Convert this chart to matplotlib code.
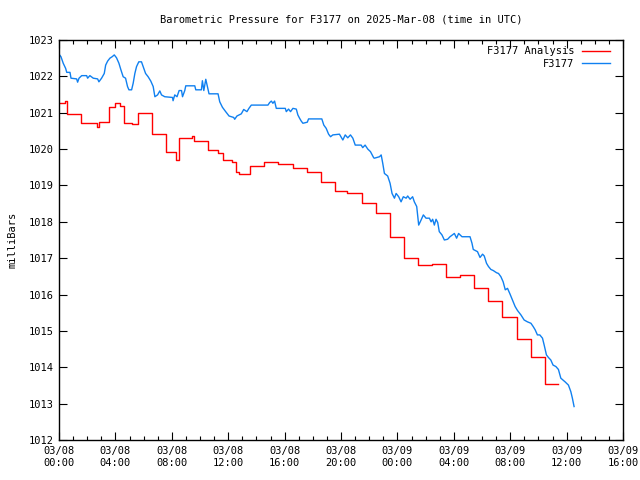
import matplotlib
matplotlib.use("Agg")
import matplotlib.pyplot as plt
import numpy as np

# ---------------- data ----------------
# time in hours since 2025-03-08 00:00 UTC, pressure in mbar
blue_t = [0.00, 0.14, 0.30, 0.47, 0.55, 0.78, 0.85, 1.25, 1.32, 1.42, 1.61, 1.96, 2.03, 2.19, 2.43,
          2.74, 2.83, 3.02, 3.21, 3.31, 3.45, 3.61, 3.77, 3.92, 4.08, 4.25, 4.39, 4.55, 4.72, 4.86,
          4.96, 5.15, 5.26, 5.38, 5.50, 5.66, 5.85, 5.97, 6.14, 6.32, 6.51, 6.68, 6.80, 6.99, 7.15,
          7.27, 7.50, 8.05, 8.09, 8.21, 8.37, 8.52, 8.69, 8.76, 8.92, 8.99, 9.63, 9.70, 10.10, 10.17,
          10.27, 10.41, 10.50, 10.64, 11.28, 11.40, 11.59, 11.82, 12.06, 12.39, 12.46, 12.62, 12.93,
          13.10, 13.33, 13.47, 13.64, 14.82, 14.94, 15.06, 15.17, 15.29, 15.41, 16.05, 16.12, 16.28,
          16.42, 16.59, 16.83, 16.94, 17.06, 17.18, 17.30, 17.61, 17.70, 18.64, 18.78, 18.95, 19.12,
          19.26, 19.42, 19.89, 20.13, 20.30, 20.48, 20.67, 20.84, 21.01, 21.43, 21.54, 21.71, 21.90,
          22.09, 22.32, 22.37, 22.73, 22.85, 22.96, 23.08, 23.31, 23.48, 23.62, 23.79, 23.91, 24.09,
          24.26, 24.42, 24.62, 24.73, 24.90, 25.08, 25.20, 25.37, 25.51, 25.68, 25.84, 26.03, 26.27,
          26.39, 26.50, 26.62, 26.74, 26.86, 26.97, 27.16, 27.33, 27.56, 27.73, 28.04, 28.20, 28.34,
          28.58, 28.86, 29.15, 29.29, 29.38, 29.68, 29.86, 30.04, 30.16, 30.32, 30.46, 30.63, 30.80,
          31.03, 31.17, 31.34, 31.50, 31.65, 31.81, 31.98, 32.16, 32.35, 32.52, 32.76, 32.99, 33.22,
          33.47, 33.63, 33.77, 33.93, 34.10, 34.29, 34.41, 34.57, 34.71, 34.88, 35.04, 35.24, 35.42,
          35.59, 35.89, 36.13, 36.30, 36.41, 36.53]
blue_p = [1022.61, 1022.54, 1022.36, 1022.22, 1022.11, 1022.11, 1021.95, 1021.93, 1021.84, 1021.95,
          1022.02, 1022.02, 1021.95, 1022.02, 1021.95, 1021.93, 1021.85, 1021.95, 1022.08, 1022.31,
          1022.42, 1022.50, 1022.54, 1022.59, 1022.51, 1022.36, 1022.18, 1021.99, 1021.95, 1021.72,
          1021.63, 1021.63, 1021.81, 1022.08, 1022.27, 1022.40, 1022.40, 1022.27, 1022.08, 1021.99,
          1021.87, 1021.72, 1021.44, 1021.49, 1021.60, 1021.49, 1021.44, 1021.42, 1021.33, 1021.49,
          1021.44, 1021.61, 1021.61, 1021.44, 1021.61, 1021.74, 1021.74, 1021.63, 1021.63, 1021.88,
          1021.61, 1021.92, 1021.76, 1021.52, 1021.52, 1021.30, 1021.15, 1021.03, 1020.91, 1020.87,
          1020.82, 1020.91, 1020.97, 1021.09, 1021.03, 1021.12, 1021.21, 1021.21, 1021.28, 1021.32,
          1021.26, 1021.32, 1021.12, 1021.12, 1021.03, 1021.10, 1021.03, 1021.12, 1021.10, 1020.94,
          1020.85, 1020.77, 1020.71, 1020.74, 1020.83, 1020.83, 1020.66, 1020.57, 1020.41, 1020.34,
          1020.39, 1020.41, 1020.25, 1020.39, 1020.31, 1020.39, 1020.30, 1020.11, 1020.11, 1020.04,
          1020.11, 1020.00, 1019.93, 1019.76, 1019.75, 1019.79, 1019.84, 1019.61, 1019.33, 1019.26,
          1019.06, 1018.78, 1018.65, 1018.78, 1018.69, 1018.55, 1018.69, 1018.65, 1018.71, 1018.62,
          1018.69, 1018.55, 1018.42, 1017.91, 1018.05, 1018.19, 1018.10, 1018.10, 1018.00, 1018.07,
          1017.91, 1018.07, 1017.98, 1017.73, 1017.64, 1017.50, 1017.52, 1017.59, 1017.68, 1017.55,
          1017.68, 1017.59, 1017.59, 1017.59, 1017.41, 1017.24, 1017.18, 1017.02, 1017.11, 1017.06,
          1016.86, 1016.77, 1016.69, 1016.66, 1016.60, 1016.58, 1016.49, 1016.35, 1016.13, 1016.17,
          1016.02, 1015.85, 1015.67, 1015.56, 1015.44, 1015.30, 1015.25, 1015.21, 1015.12, 1015.03,
          1014.89, 1014.89, 1014.80, 1014.61, 1014.34, 1014.27, 1014.20, 1014.06, 1014.02, 1013.94,
          1013.70, 1013.60, 1013.51, 1013.33, 1013.15, 1012.92]

red_t = [0.00, 0.42, 0.57, 1.56, 2.69, 2.83, 3.54, 3.96, 4.32, 4.60, 5.17, 5.60, 6.58, 7.58, 8.28,
         8.50, 9.42, 9.56, 10.55, 11.26, 11.60, 12.30, 12.53, 12.80, 13.52, 14.51, 15.50, 16.57,
         17.56, 18.55, 19.54, 20.46, 21.52, 22.51, 23.50, 24.50, 25.49, 26.48, 27.47, 28.46, 29.40,
         30.44, 31.43, 32.45, 33.45, 34.46, 35.42]
red_p = [1021.26, 1021.33, 1020.96, 1020.71, 1020.62, 1020.74, 1021.17, 1021.26, 1021.18, 1020.73,
         1020.68, 1020.98, 1020.41, 1019.93, 1019.70, 1020.31, 1020.36, 1020.22, 1019.97, 1019.90,
         1019.70, 1019.64, 1019.36, 1019.31, 1019.53, 1019.65, 1019.59, 1019.47, 1019.36, 1019.09,
         1018.85, 1018.78, 1018.51, 1018.23, 1017.57, 1017.00, 1016.81, 1016.83, 1016.49, 1016.54,
         1016.17, 1015.82, 1015.37, 1014.77, 1014.27, 1013.53, 1013.53]

x_tick_hours = [0, 4, 8, 12, 16, 20, 24, 28, 32, 36, 40]
x_tick_labels = ["03/08\n00:00", "03/08\n04:00", "03/08\n08:00", "03/08\n12:00", "03/08\n16:00",
                 "03/08\n20:00", "03/09\n00:00", "03/09\n04:00", "03/09\n08:00", "03/09\n12:00",
                 "03/09\n16:00"]
y_ticks = [1012, 1013, 1014, 1015, 1016, 1017, 1018, 1019, 1020, 1021, 1022, 1023]

# ---------------- plot ----------------
plt.rcParams['font.family'] = ['DejaVu Sans Mono']
fig = plt.figure(figsize=(6.4, 4.8), dpi=100)
ax = fig.add_axes([59/640, 40/480, (623-59)/640, 400/480])

ax.step(red_t, red_p, where='post', color='#ff0000', lw=1.0, label='F3177 Analysis')
ax.plot(blue_t, blue_p, color='#1080f0', lw=1.0, label='F3177')

ax.set_xlim(0, 40)
ax.set_ylim(1012, 1023)
ax.set_xticks(x_tick_hours)
ax.set_xticklabels(x_tick_labels, fontsize=7.5, linespacing=1.25)
ax.set_xticks(np.arange(0, 41, 1), minor=True)
ax.set_yticks(y_ticks)
ax.set_yticklabels([str(v) for v in y_ticks], fontsize=7.5)
ax.tick_params(axis='both', which='major', direction='in', length=6, width=0.8,
               top=True, right=True, pad=4)
ax.tick_params(axis='x', which='minor', direction='in', length=3, width=0.8, top=True)
for s in ax.spines.values():
    s.set_linewidth(1.0)

ax.set_ylabel('milliBars', fontsize=7.5, labelpad=8)
fig.text(341/640, 1 - 19/480, 'Barometric Pressure for F3177 on 2025-Mar-08 (time in UTC)',
         ha='center', va='center', fontsize=7.5)

ax.legend(loc='upper right', frameon=False, markerfirst=False, fontsize=7.5,
          handlelength=2.7, handletextpad=0.7, labelspacing=0.25,
          bbox_to_anchor=(0.9876, 1.0), borderaxespad=0.2)

fig.savefig('out.png', dpi=100)
